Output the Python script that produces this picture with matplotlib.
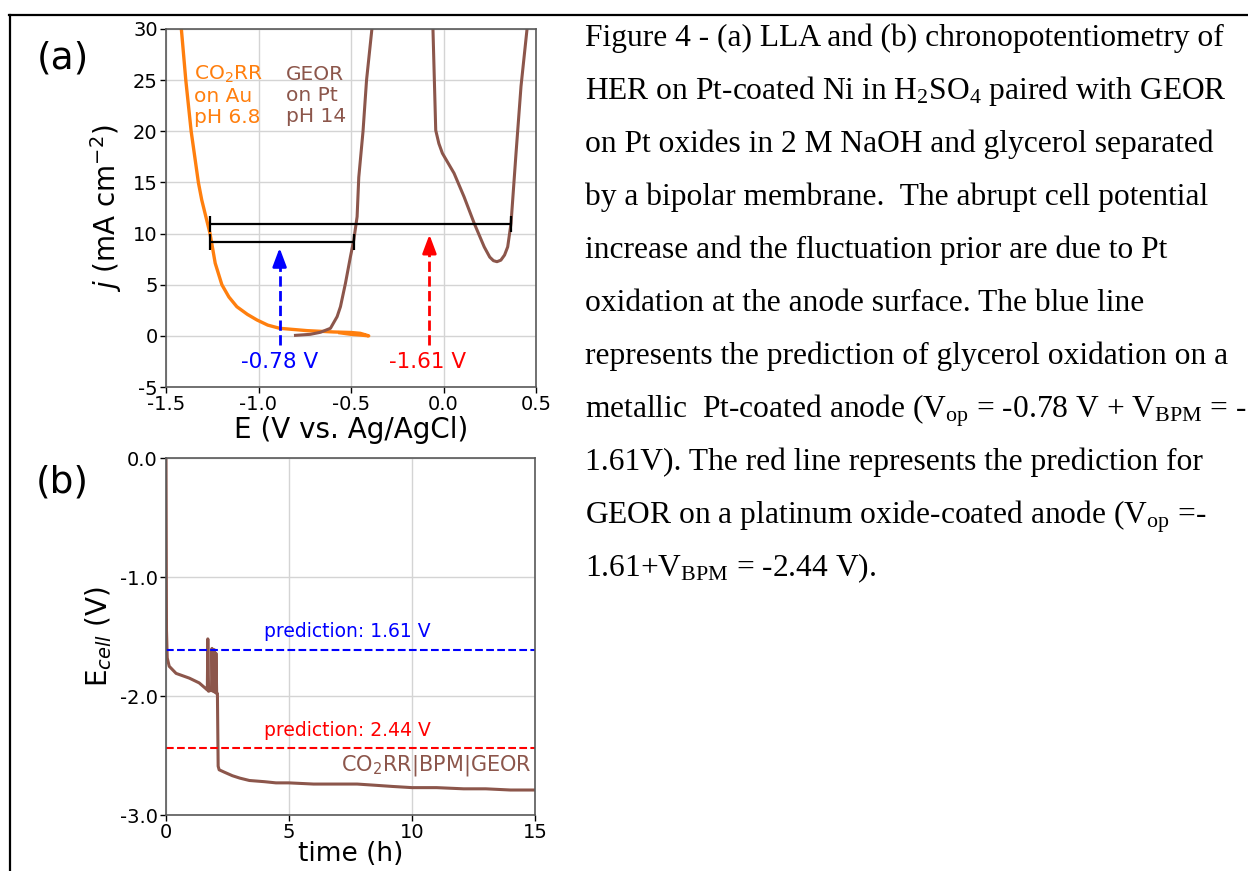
import numpy as np
import matplotlib.pyplot as plt
from matplotlib.lines import Line2D
from matplotlib.ticker import FormatStrFormatter

plt.rcParams['font.family'] = 'DejaVu Sans'
plt.rcParams['axes.unicode_minus'] = False
# caption uses serif mathtext for subscripts
plt.rcParams['mathtext.rm'] = 'Liberation Serif'
plt.rcParams['mathtext.it'] = 'Liberation Serif:italic'
plt.rcParams['mathtext.bf'] = 'Liberation Serif:bold'

# ---- (a) LSV data ----
co2rr_E = [-1.417, -1.393, -1.364, -1.325, -1.307, -1.262, -1.234, -1.198, -1.160,
           -1.117, -1.060, -1.008, -0.950, -0.886, -0.737, -0.593, -0.500, -0.450,
           -0.404, -0.450, -0.500, -0.560]
co2rr_j = [30.0, 25.0, 20.0, 15.0, 13.3, 10.0, 7.1, 5.0, 3.8,
           2.85, 2.1, 1.55, 1.05, 0.74, 0.51, 0.38, 0.33, 0.25,
           0.0, 0.08, 0.15, 0.30]

geor_E = [-0.800, -0.720, -0.665, -0.611, -0.575, -0.557, -0.530, -0.503, -0.485,
          -0.467, -0.458, -0.435, -0.416, -0.387, -0.383, np.nan,
          -0.058, -0.057, -0.042, -0.025, -0.006, 0.057, 0.111, 0.166, 0.220,
          0.250, 0.270, 0.289, 0.310, 0.330, 0.347, 0.365, 0.392, 0.419, 0.451, 0.455]
geor_j = [0.05, 0.15, 0.35, 0.74, 1.88, 2.85, 5.14, 7.74, 9.37,
          11.65, 15.5, 20.0, 25.0, 30.0, 31.0, np.nan,
          31.0, 30.0, 20.1, 18.8, 17.85, 15.9, 13.6, 11.0, 8.7,
          7.7, 7.35, 7.25, 7.4, 7.9, 8.7, 11.0, 17.85, 24.4, 29.9, 31.0]

# potential windows at 10 mA cm-2
bar_lo = [-1.262, -1.262]
bar_hi = [0.365, -0.485]
bar_j = [10.9, 9.2]

arrow_E = [-0.886, -0.076]
arrow_top = [8.6, 9.9]
arrow_bottom = -0.9
arrow_text = ['-0.78 V', '-1.61 V']
arrow_text_E = [-0.888, -0.087]
arrow_col = ['blue', 'red']

# ---- (b) chronopotentiometry ----
time_h = [0.0, 0.02, 0.05, 0.13, 0.41, 0.95, 1.35, 1.63, 1.68, 1.70, 1.73, 1.85, 1.87,
          1.90, 1.94, 1.96, 1.99, 2.01, 2.03, 2.06, 2.09, 2.12, 2.16, 2.37, 2.70, 3.00,
          3.39, 4.00, 4.47, 5.00, 6.00, 7.00, 7.77, 8.50, 9.20, 10.0, 11.0, 12.1, 13.0,
          14.0, 15.0]
E_cell = [0.0, -1.45, -1.68, -1.75, -1.81, -1.85, -1.89, -1.94, -1.95, -1.52, -1.96, -1.95,
          -1.60, -1.96, -1.95, -1.61, -1.97, -1.96, -1.64, -1.98, -1.98, -2.59, -2.62,
          -2.64, -2.67, -2.69, -2.71, -2.72, -2.73, -2.73, -2.74, -2.74, -2.74, -2.75,
          -2.76, -2.77, -2.77, -2.78, -2.78, -2.79, -2.79]
pred_V = [-1.61, -2.44]
pred_text = ['prediction: 1.61 V', 'prediction: 2.44 V']
pred_col = ['blue', 'red']

caption = [
    "Figure 4 - (a) LLA and (b) chronopotentiometry of",
    "HER on Pt-coated Ni in H$_2$SO$_4$ paired with GEOR",
    "on Pt oxides in 2 M NaOH and glycerol separated",
    "by a bipolar membrane.  The abrupt cell potential",
    "increase and the fluctuation prior are due to Pt",
    "oxidation at the anode surface. The blue line",
    "represents the prediction of glycerol oxidation on a",
    r"metallic  Pt-coated anode (V$_\mathrm{op}$ = -0.78 V + V$_\mathrm{BPM}$ = -",
    "1.61V). The red line represents the prediction for",
    r"GEOR on a platinum oxide-coated anode (V$_\mathrm{op}$ =-",
    r"1.61+V$_\mathrm{BPM}$ = -2.44 V).",
]

orange = '#ff7f0e'
brown = '#8c564b'
W, H = 1248, 871

fig = plt.figure(figsize=(12.48, 8.71), dpi=100)


def style(ax):
    ax.grid(True, color='#d4d4d4', lw=1)
    ax.set_axisbelow(True)
    for s in ax.spines.values():
        s.set_color('0.35')
        s.set_linewidth(1.2)
    ax.tick_params(labelsize=14, length=4, width=1, pad=2)


# ---------- (a) ----------
ax1 = fig.add_axes([166 / W, 1 - 387 / H, 370 / W, 358 / H])
style(ax1)
ax1.plot(co2rr_E, co2rr_j, color=orange, lw=2.4)
ax1.plot(geor_E, geor_j, color=brown, lw=2.2)

for lo, hi, j in zip(bar_lo, bar_hi, bar_j):
    ax1.errorbar((lo + hi) / 2, j, xerr=(hi - lo) / 2, fmt='none', ecolor='k',
                 elinewidth=1.6, capsize=6, capthick=1.6)

for x, top, txt, tx, c in zip(arrow_E, arrow_top, arrow_text, arrow_text_E, arrow_col):
    ax1.plot([x, x], [arrow_bottom, top - 1.0], color=c, lw=2, ls='--')
    ax1.annotate('', xy=(x, top), xytext=(x, top - 1.6),
                 arrowprops=dict(arrowstyle='-|>,head_length=0.8,head_width=0.3',
                                 color=c, lw=2, mutation_scale=14, shrinkA=0, shrinkB=0))
    ax1.text(tx, -2.52, txt, color=c, fontsize=15.5, ha='center', va='center')

ax1.text(-1.348, 23.5, 'CO$_2$RR\non Au\npH 6.8', color=orange, fontsize=14.5,
         ha='left', va='center', linespacing=1.15)
ax1.text(-0.851, 23.5, 'GEOR\non Pt\npH 14', color=brown, fontsize=14.5,
         ha='left', va='center', linespacing=1.15)

ax1.set_xlim(-1.5, 0.5)
ax1.set_ylim(-5, 30)
ax1.set_xticks([-1.5, -1.0, -0.5, 0.0, 0.5])
ax1.set_yticks([-5, 0, 5, 10, 15, 20, 25, 30])
ax1.set_xlabel('E (V vs. Ag/AgCl)', fontsize=20, labelpad=1)
ax1.set_ylabel('$j$ (mA cm$^{-2}$)', fontsize=20, labelpad=6)

# ---------- (b) ----------
ax2 = fig.add_axes([166 / W, 1 - 815 / H, 369 / W, 357 / H])
style(ax2)
ax2.plot(time_h, E_cell, color=brown, lw=2.2)
for v, txt, c in zip(pred_V, pred_text, pred_col):
    ax2.axhline(v, color=c, lw=1.5, ls='--')
    ax2.text(4.0, v + 0.15, txt, color=c, fontsize=13.5, ha='left', va='center')
ax2.text(14.85, -2.58, 'CO$_2$RR|BPM|GEOR', color=brown, fontsize=15,
         ha='right', va='center')

ax2.set_xlim(0, 15)
ax2.set_ylim(-3, 0)
ax2.set_xticks([0, 5, 10, 15])
ax2.set_yticks([-3, -2, -1, 0])
ax2.yaxis.set_major_formatter(FormatStrFormatter('%.1f'))
ax2.set_xlabel('time (h)', fontsize=19, labelpad=-1)
ax2.set_ylabel('E$_{cell}$ (V)', fontsize=20, labelpad=4)

fig.text(63 / W, 1 - 58 / H, '(a)', fontsize=27, ha='center', va='center')
fig.text(62 / W, 1 - 482 / H, '(b)', fontsize=27, ha='center', va='center')

# frame lines of the page layout
fig.add_artist(Line2D([9 / W, 1.0], [1 - 15 / H, 1 - 15 / H], color='k', lw=1.6))
fig.add_artist(Line2D([10 / W, 10 / W], [0.0, 1 - 15 / H], color='k', lw=1.6))

# caption
for i, line in enumerate(caption):
    y = 46 + 53.05 * i
    fig.text(585 / W, 1 - y / H, line, fontsize=22.7, family='Liberation Serif',
             math_fontfamily='custom', ha='left', va='baseline')

fig.savefig('out.png', dpi=100)
